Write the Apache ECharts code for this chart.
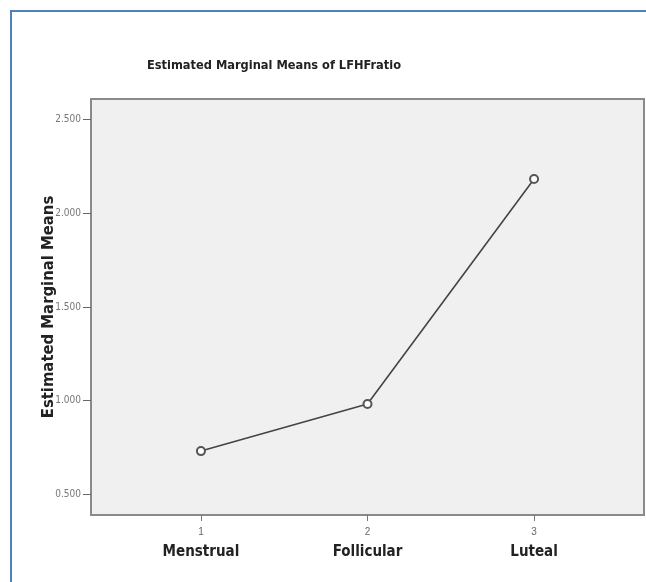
<!DOCTYPE html>
<html>
<head>
<meta charset="utf-8">
<script src="https://cdn.jsdelivr.net/npm/echarts@6/dist/echarts.min.js"></script>
<style>
html,body{margin:0;padding:0;background:#fff;}
#c{width:646px;height:582px;}
</style>
</head>
<body>
<div id="c"></div>
<script>
var phaseCodes = [1, 2, 3];
var phaseNames = ['Menstrual', 'Follicular', 'Luteal'];
var meanValues = [0.731, 0.982, 2.183];
var yTicks = [0.5, 1.0, 1.5, 2.0, 2.5];

var condFont = 'DejaVu Sans Condensed, Liberation Sans Narrow, Arial Narrow, sans-serif';
var chart = echarts.init(document.getElementById('c'), null, {renderer: 'canvas'});
var seriesData = phaseCodes.map(function (c, i) { return [c, meanValues[i]]; });

chart.setOption({
  animation: false,
  backgroundColor: '#ffffff',
  graphic: [{
    type: 'rect', silent: true, z: 100,
    shape: {x: 11, y: 11, width: 700, height: 700},
    style: {fill: null, stroke: '#4f81bd', lineWidth: 2}
  }],
  title: {
    text: 'Estimated Marginal Means of LFHFratio',
    left: 269, top: 54, textAlign: 'center',
    textStyle: {fontFamily: condFont, fontWeight: 'bold', fontSize: 12.7, color: '#222'}
  },
  grid: {
    left: 91, top: 99, right: 2, bottom: 67,
    show: true, backgroundColor: '#f0f0f0', borderColor: '#8a8a8a', borderWidth: 2
  },
  xAxis: {
    type: 'value', min: 0.34, max: 3.66,
    splitLine: {show: false},
    axisLine: {show: false},
    axisTick: {show: true, customValues: phaseCodes, length: 6, inside: false, lineStyle: {color: '#777', width: 1}},
    axisLabel: {
      customValues: phaseCodes,
      margin: 10,
      formatter: function (v) {
        var i = phaseCodes.indexOf(v);
        return '{n|' + v + '}\n{c|' + (i >= 0 ? phaseNames[i] : '') + '}';
      },
      rich: {
        n: {fontFamily: 'Liberation Sans, Arial, sans-serif', fontSize: 10, color: '#666', lineHeight: 14},
        c: {fontFamily: condFont, fontWeight: 'bold', fontSize: 15, color: '#222', lineHeight: 27}
      }
    }
  },
  yAxis: {
    type: 'value', min: 0.39, max: 2.61,
    name: 'Estimated Marginal Means',
    nameLocation: 'middle', nameGap: 34, nameRotate: 90, nameMoveOverlap: false,
    nameTextStyle: {fontFamily: condFont, fontWeight: 'bold', fontSize: 16.5, color: '#222'},
    splitLine: {show: false},
    axisLine: {show: false},
    axisTick: {show: true, customValues: yTicks, length: 8, lineStyle: {color: '#666', width: 1}},
    axisLabel: {
      customValues: yTicks, margin: 10,
      formatter: function (v) { return v.toFixed(3); },
      fontFamily: condFont, fontSize: 10, color: '#777'
    }
  },
  series: [{
    type: 'line',
    data: seriesData,
    symbol: 'emptyCircle', symbolSize: 8,
    lineStyle: {color: '#444', width: 1.6},
    itemStyle: {color: '#555', borderColor: '#555', borderWidth: 1.2}
  }]
});
</script>
</body>
</html>
